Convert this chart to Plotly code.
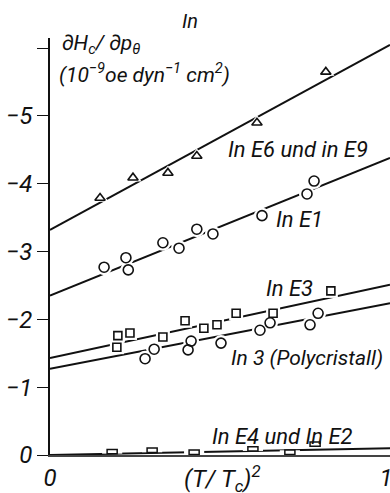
import plotly.graph_objects as go

# (T/Tc)^2 against dHc/dp for the indium samples
e6_x = [0.149, 0.247, 0.351, 0.437, 0.616, 0.821]
e6_y = [-3.79, -4.09, -4.16, -4.41, -4.90, -5.65]

e1_x = [0.161, 0.226, 0.233, 0.336, 0.384, 0.437, 0.485, 0.631, 0.765, 0.786]
e1_y = [-2.77, -2.91, -2.73, -3.13, -3.05, -3.33, -3.26, -3.53, -3.85, -4.04]

e3_x = [0.199, 0.202, 0.238, 0.336, 0.402, 0.458, 0.497, 0.554, 0.664, 0.836]
e3_y = [-1.59, -1.76, -1.80, -1.74, -1.98, -1.87, -1.92, -2.09, -2.09, -2.42]

poly_x = [0.283, 0.310, 0.411, 0.420, 0.509, 0.625, 0.655, 0.774, 0.798]
poly_y = [-1.42, -1.56, -1.55, -1.68, -1.65, -1.84, -1.95, -1.92, -2.09]

e4_x = [0.185, 0.304, 0.429, 0.604, 0.714, 0.789]
e4_y = [-0.05, -0.07, -0.04, -0.09, -0.04, -0.16]

# straight-line fits, evaluated at both ends of the axis
fit_x = [0.0, 1.012]
e6_fit = [-3.32, -6.05]
e1_fit = [-2.35, -4.38]
e3_fit = [-1.43, -2.51]
poly_fit = [-1.27, -2.24]
e4_fit = [0.0, -0.10]

y_ticks = [0, -1, -2, -3, -4, -5, -6]
y_tick_text = ["0", "\u22121", "\u22122", "\u22123", "\u22124", "\u22125", ""]
x_ticks = [0, 1]
x_tick_text = ["0", "1"]

FONT = "Roboto, Liberation Sans, sans-serif"
INK = "#111111"

fig = go.Figure()

for fx, fy in [(fit_x, e6_fit), (fit_x, e1_fit), (fit_x, e3_fit),
               (fit_x, poly_fit), (fit_x, e4_fit)]:
    fig.add_trace(go.Scatter(x=fx, y=fy, mode="lines",
                             line=dict(color=INK, width=2), hoverinfo="skip"))

series = [
    (e6_x, e6_y, "triangle-up", 9),
    (e1_x, e1_y, "circle", 10),
    (e3_x, e3_y, "square", 8),
    (poly_x, poly_y, "circle", 10),
]

# white halos break the fit lines around each point
for sx, sy, sym, size in series:
    fig.add_trace(go.Scatter(x=sx, y=sy, mode="markers",
                             marker=dict(symbol=sym, size=size + 6, color="white",
                                         line=dict(width=0)),
                             hoverinfo="skip"))

for sx, sy, sym, size in series:
    fig.add_trace(go.Scatter(x=sx, y=sy, mode="markers",
                             marker=dict(symbol=sym + "-open", size=size, color=INK,
                                         line=dict(width=1.6, color=INK)),
                             hoverinfo="skip"))

# flat rectangles for E4 / E2
for x, y in zip(e4_x, e4_y):
    fig.add_shape(type="rect", x0=x - 0.03, x1=x + 0.03, y0=y - 0.03, y1=y + 0.03,
                  fillcolor="white", line=dict(width=0), layer="above")
    fig.add_shape(type="rect", x0=x - 0.015, x1=x + 0.015, y0=y - 0.032, y1=y + 0.032,
                  fillcolor="white", line=dict(width=1.5, color=INK), layer="above")

labels = [
    ("In E6 und in E9", 0.738, -4.51, 22),
    ("In E1", 0.744, -3.47, 22),
    ("In E3", 0.714, -2.46, 22),
    ("In 3 (Polycristall)", 0.765, -1.43, 21),
    ("In E4 und In E2", 0.693, -0.28, 22),
]
for text, x, y, size in labels:
    fig.add_annotation(x=x, y=y, xref="x", yref="y", text=text, showarrow=False,
                       xanchor="center", yanchor="middle",
                       font=dict(size=size, color=INK, family=FONT, style="italic"))

def paper_note(text, x, y, size, xanchor="center"):
    fig.add_annotation(x=x, y=y, xref="paper", yref="paper", text=text,
                       showarrow=False, xanchor=xanchor, yanchor="middle",
                       font=dict(size=size, color=INK, family=FONT, style="italic"))

paper_note("In", 0.412, 1.04, 20)
paper_note("\u2202H<sub>c</sub>/ \u2202p<sub>\u03b8</sub>", 0.03, 0.985, 21, "left")
paper_note("(10<sup>\u22129</sup>oe dyn<sup>\u22121</sup> cm<sup>2</sup>)", 0.02, 0.916, 21, "left")
paper_note("(T/ T<sub>c</sub>)<sup>2</sup>", 0.506, -0.056, 24)

fig.update_layout(
    width=390, height=493,
    margin=dict(l=50, r=0, t=38, b=38, autoexpand=False),
    paper_bgcolor="white", plot_bgcolor="white",
    showlegend=False,
    font=dict(family=FONT, size=24, color=INK, style="italic"),
)
fig.update_xaxes(range=[0, 1.012], tickvals=x_ticks, ticktext=x_tick_text,
                 showgrid=False, zeroline=False, showline=True, linecolor="#444444",
                 linewidth=1.5, ticks="", ticklabeloverflow="allow", automargin=False,
                 ticklabelstandoff=0, tickfont=dict(size=24, style="italic"))
fig.update_yaxes(range=[0.0, -6.15], tickvals=y_ticks, ticktext=y_tick_text,
                 showgrid=False, zeroline=False, showline=True, linecolor=INK,
                 linewidth=1.5, ticks="outside", ticklen=11, tickwidth=1.3,
                 automargin=False, tickcolor=INK, tickfont=dict(size=24, style="italic"))

fig.write_html("out.html")
